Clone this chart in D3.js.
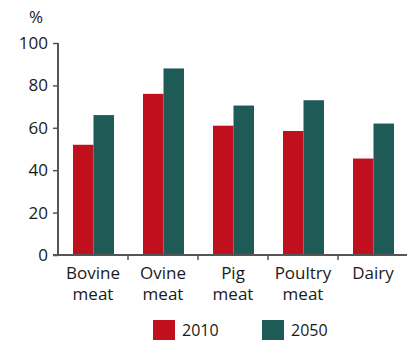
<!DOCTYPE html>
<html>
<head>
<meta charset="UTF-8">
<title></title>
<script src="https://cdn.jsdelivr.net/npm/d3@7/dist/d3.min.js"></script>
<style>
  body { margin: 0; background: #fff; }
  text { font-family: "Open Sans", sans-serif; fill: #1a1a1a; }
</style>
</head>
<body>
<svg id="chart" width="407" height="342"></svg>
<script>
var categories = [["Bovine", "meat"], ["Ovine", "meat"], ["Pig", "meat"], ["Poultry", "meat"], ["Dairy"]];
var years = ["2010", "2050"];
var values2010 = [52, 76, 61, 58.5, 45.5];
var values2050 = [66, 88, 70.5, 73, 62];
var yTicks = [0, 20, 40, 60, 80, 100];
var colors = ["#c0101d", "#1e5b56"];

var svg = d3.select('#chart');
var mLeft = 58, mRight = 408, mTop = 43, mBottom = 255;

var x = d3.scaleBand().domain(d3.range(categories.length)).range([mLeft, mRight]);
var y = d3.scaleLinear().domain([0, 100]).range([mBottom, mTop]);
var xs = d3.scaleBand().domain(years).range([15, 56]);

var series = [values2010, values2050];

// bars
years.forEach(function(yr, s) {
  svg.append('g').selectAll('rect')
    .data(series[s])
    .enter().append('rect')
    .attr('x', function(d, i) { return x(i) + xs(yr); })
    .attr('width', xs.bandwidth())
    .attr('y', function(d) { return y(d); })
    .attr('height', function(d) { return y(0) - y(d); })
    .attr('fill', colors[s]);
});

// y axis
var yAxis = svg.append('g')
  .attr('transform', 'translate(' + mLeft + ',0)')
  .call(d3.axisLeft(y).tickValues(yTicks).tickSize(5).tickPadding(5));
yAxis.select('.domain').attr('stroke', '#555').attr('stroke-width', 2).attr('d', 'M0,' + mTop + 'V' + mBottom);
yAxis.selectAll('.tick line').attr('stroke', '#555').attr('stroke-width', 1.5);
yAxis.selectAll('.tick text').style('font-size', '17px').style('font-weight', 500)
  .style('font-family', '"Open Sans", sans-serif').attr('fill', '#1a1a1a');

// x axis line + ticks at category boundaries
svg.append('line')
  .attr('x1', mLeft - 5).attr('x2', mRight)
  .attr('y1', mBottom).attr('y2', mBottom)
  .attr('stroke', '#555').attr('stroke-width', 2);
svg.append('g').selectAll('line')
  .data(d3.range(1, categories.length))
  .enter().append('line')
  .attr('x1', function(i) { return x(i); })
  .attr('x2', function(i) { return x(i); })
  .attr('y1', mBottom).attr('y2', mBottom + 5)
  .attr('stroke', '#555').attr('stroke-width', 1.5);

// category labels
var lab = svg.append('g').selectAll('text')
  .data(categories)
  .enter().append('text')
  .attr('text-anchor', 'middle')
  .attr('x', function(d, i) { return x(i) + x.bandwidth() / 2; })
  .attr('y', 279)
  .style('font-size', '17px').style('font-weight', 500);
lab.selectAll('tspan')
  .data(function(d) { return d; })
  .enter().append('tspan')
  .attr('x', function() { return d3.select(this.parentNode).attr('x'); })
  .attr('dy', function(d, i) { return i ? 21 : 0; })
  .text(function(d) { return d; });

// unit
svg.append('text').attr('x', 29).attr('y', 23).style('font-size', '17px').style('font-weight', 500).text('%');

// legend
var legX = [153, 262];
years.forEach(function(yr, s) {
  svg.append('rect').attr('x', legX[s]).attr('y', 320).attr('width', 22).attr('height', 20).attr('fill', colors[s]);
  svg.append('text').attr('x', legX[s] + 29).attr('y', 336).style('font-size', '16px').style('font-weight', 500).text(yr);
});
</script>
</body>
</html>
